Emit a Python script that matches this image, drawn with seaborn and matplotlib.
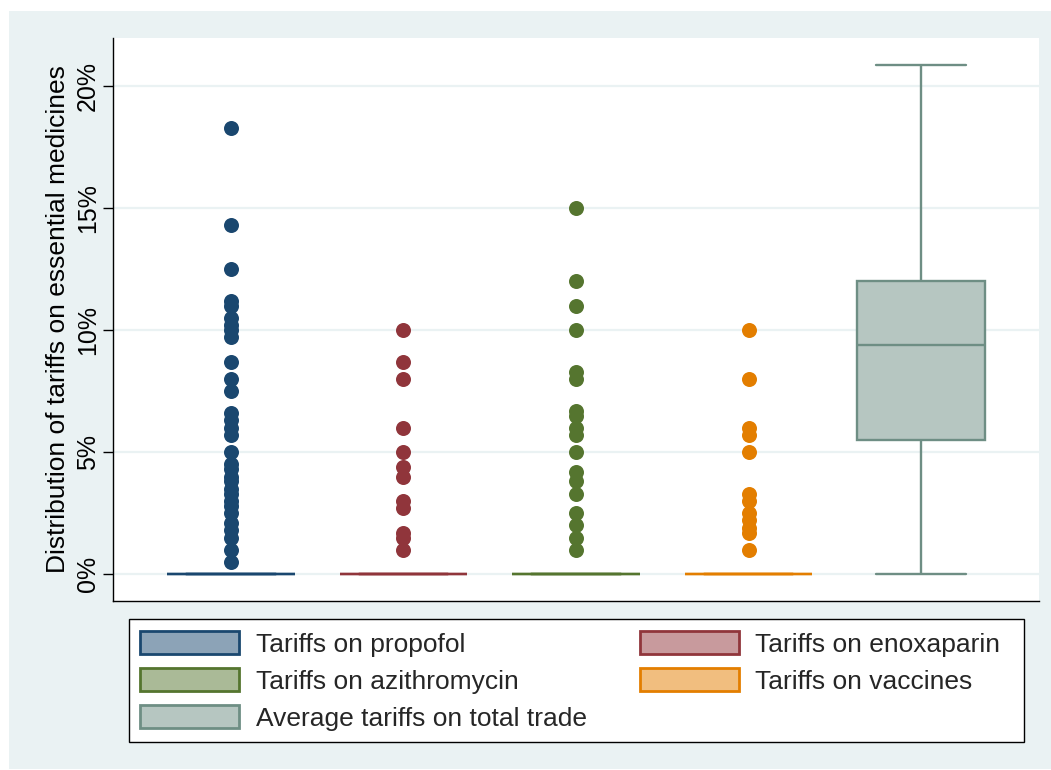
import numpy as np
import pandas as pd
import matplotlib
matplotlib.use("Agg")
import matplotlib.pyplot as plt
from matplotlib.patches import Patch, Rectangle
from matplotlib.ticker import FuncFormatter
import seaborn as sns

# Series shown, in plotting order
series_labels = [
    "Tariffs on propofol",
    "Tariffs on enoxaparin",
    "Tariffs on azithromycin",
    "Tariffs on vaccines",
    "Average tariffs on total trade",
]

# Non-zero tariff rates (%) per medicine; most countries apply 0%
propofol_nonzero = [18.3, 14.3, 12.5, 11.2, 11.0, 10.5, 10.2, 10.0, 9.7, 8.7, 8.0,
                    7.5, 6.6, 6.3, 6.0, 5.7, 5.0, 4.5, 4.3, 4.0, 3.8, 3.5, 3.3,
                    3.0, 2.8, 2.5, 2.1, 1.8, 1.5, 1.0, 0.5]
enoxaparin_nonzero = [10.0, 8.7, 8.0, 6.0, 5.0, 4.4, 4.0, 3.0, 2.7, 1.7, 1.5, 1.0]
azithromycin_nonzero = [15.0, 12.0, 11.0, 10.0, 8.3, 8.0, 6.7, 6.5, 6.0, 5.7, 5.0,
                        4.2, 3.8, 3.3, 2.5, 2.0, 1.5, 1.0]
vaccines_nonzero = [10.0, 8.0, 6.0, 5.7, 5.0, 3.3, 3.0, 2.5, 2.2, 1.9, 1.7, 1.0]
# Number of countries with a zero tariff for each medicine
zero_counts = [150, 150, 150, 150]

# Average tariff on total trade: min, lower quartile, median, upper quartile, max
average_tariff = [0.0, 5.5, 9.4, 12.0, 20.85]

y_ticks = [0, 5, 10, 15, 20]

edge_colors = ["#1A476F", "#90353B", "#55752F", "#E37E00", "#6E8E84"]
fill_colors = ["#8CA3B7", "#C89A9D", "#AABA97", "#F1BE7F", "#B6C6C1"]

# Long-format table
groups = [propofol_nonzero, enoxaparin_nonzero, azithromycin_nonzero, vaccines_nonzero]
rows = []
for label, vals, nz in zip(series_labels[:4], groups, zero_counts):
    rows += [(label, 0.0)] * nz
    rows += [(label, v) for v in vals]
rows += [(series_labels[4], v) for v in average_tariff]
df = pd.DataFrame(rows, columns=["series", "tariff"])

sns.set_theme(style="white")
plt.rcParams["font.family"] = ["Liberation Sans", "DejaVu Sans"]

W, H = 1051, 770
fig = plt.figure(figsize=(W / 100, H / 100), dpi=100, facecolor="white")
fig.patches.append(Rectangle((9 / W, 1 / H), 1042 / W, 758 / H, transform=fig.transFigure,
                             facecolor="#EAF2F3", edgecolor="none", zorder=-10))
ax = fig.add_axes([113 / W, 169 / H, 926 / W, 563 / H])
ax.set_zorder(1)
ax.set_facecolor("white")

box_width = 0.74
for label, fc, ec in zip(series_labels, fill_colors, edge_colors):
    sub = df[df["series"] == label]
    sns.boxplot(data=sub, x="series", y="tariff", order=series_labels, ax=ax,
                color=fc, linecolor=ec, saturation=1, width=box_width, linewidth=1.7,
                whis=1.5, fliersize=10.8, capwidths=0.7 * box_width,
                flierprops=dict(marker="o", markerfacecolor=ec, markeredgecolor=ec,
                                markersize=10.8, markeredgewidth=0))

ax.set_xlim(-0.684, 4.684)
ax.set_ylim(-1.1, 21.97)
ax.set_xticks([])
ax.set_xlabel("")
ax.set_yticks(y_ticks)
ax.yaxis.set_major_formatter(FuncFormatter(lambda v, p: f"{v:.0f}%"))
ax.tick_params(axis="y", left=True, length=7.5, width=1, color="black",
               labelsize=18, pad=2, labelrotation=90, labelcolor="black")
for t in ax.get_yticklabels():
    t.set_va("center")
ax.yaxis.grid(True, color="#EAF2F3", linewidth=1.6)
ax.set_axisbelow(True)
for s in ["top", "right"]:
    ax.spines[s].set_visible(False)
for s in ["left", "bottom"]:
    ax.spines[s].set_color("black")
    ax.spines[s].set_linewidth(1.0)
ax.set_ylabel("Distribution of tariffs on essential medicines", fontsize=19,
              color="black", labelpad=4)

# Legend frame and entries
fig.patches.append(Rectangle((129 / W, 28 / H), 895 / W, 123 / H, transform=fig.transFigure,
                             facecolor="white", edgecolor="black", linewidth=1.0, zorder=1))
handles = [Patch(facecolor=fc, edgecolor=ec, linewidth=2) for fc, ec in zip(fill_colors, edge_colors)]
order = [0, 2, 4, 1, 3]
leg = fig.legend([handles[i] for i in order], [series_labels[i] for i in order],
                 loc="upper left", bbox_to_anchor=(140 / W, (770 - 631) / H),
                 ncol=2, frameon=False, fontsize=19, handlelength=3.75, handleheight=0.98,
                 handletextpad=0.64, columnspacing=2.0, labelspacing=0.43,
                 borderpad=0, borderaxespad=0)
leg.set_zorder(2)

fig.savefig("out.png", dpi=100, facecolor="white")
